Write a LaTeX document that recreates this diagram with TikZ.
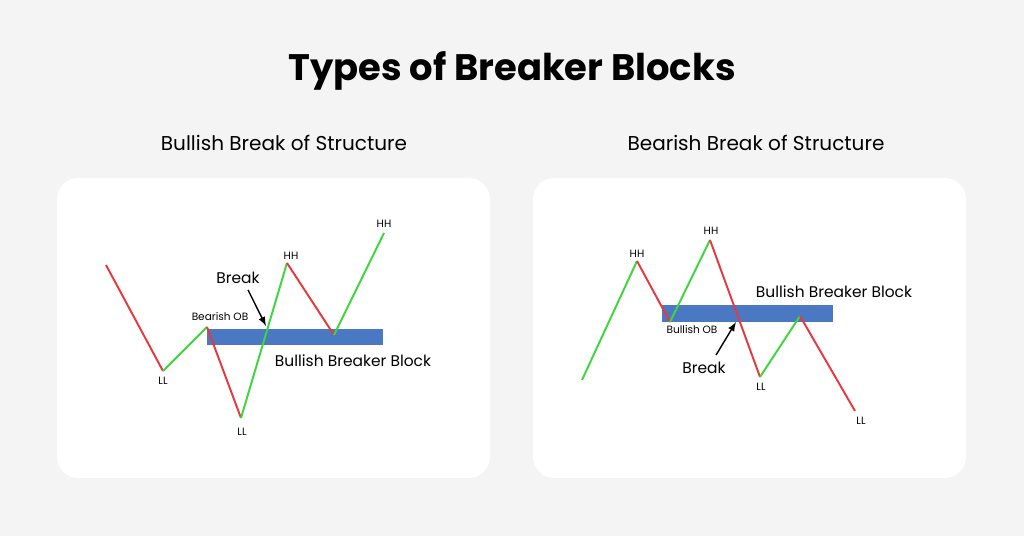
\documentclass[tikz,border=0pt]{standalone}
\usepackage{fontspec}
\setmainfont{Poppins}
\definecolor{bgc}{HTML}{F4F4F4}
\definecolor{upc}{HTML}{3DD63D}
\definecolor{dnc}{HTML}{E8383D}
\definecolor{blkc}{HTML}{4A78C2}
\tikzset{up/.style={upc, line width=1.1pt},
         dn/.style={dnc, line width=1.1pt},
         blk/.style={fill=blkc, draw=none},
         tiny/.style={font=\fontsize{6}{7}\selectfont, inner sep=1pt},
         lbl/.style={font=\fontsize{8.8}{11}\selectfont, inner sep=1pt},
         panel/.style={fill=white, draw=none, rounded corners=12pt}}
\begin{document}
\begin{tikzpicture}[x=0.02cm, y=-0.02cm]
\fill[bgc] (0,0) rectangle (1024,536);
\useasboundingbox (0,0) rectangle (1024,536);
\node (title) at (512,71) {\fontsize{21}{25}\selectfont\bfseries Types of Breaker Blocks};
\node (subl) at (284,143) {\fontsize{11.4}{14}\selectfont Bullish Break of Structure};
\node (subr) at (756,143) {\fontsize{11.4}{14}\selectfont Bearish Break of Structure};
\fill[panel] (57,178) rectangle (490,478);
\fill[panel] (533,178) rectangle (966,478);
% bullish
\fill[blk] (207,329) rectangle (383,345);
\coordinate (a0) at (106,265); \coordinate (a1) at (163,371); \coordinate (a2) at (207,327);
\coordinate (a3) at (241,418); \coordinate (a4) at (287,263); \coordinate (a5) at (334,335);
\coordinate (a6) at (384,233);
\draw[dn] (a0) -- (a1); \draw[up] (a1) -- (a2); \draw[dn] (a2) -- (a3);
\draw[up] (a3) -- (a4); \draw[dn] (a4) -- (a5); \draw[up] (a5) -- (a6);
\node[tiny] (ll1) at (163,381) {LL};
\node[tiny] (obl) at (220,317) {Bearish OB};
\node[tiny] (ll2) at (242,432) {LL};
\node[tiny] (hh1) at (291,256) {HH};
\node[tiny] (hh2) at (384,224) {HH};
\node[lbl] (brkl) at (238,278) {Break};
\coordinate (brkla) at (266,326);
\draw[-latex, thick] (brkl.south) ++(10,4) -- (brkla);
\node[lbl] (bbl) at (353,361) {Bullish Breaker Block};
% bearish
\fill[blk] (662,305) rectangle (833,322);
\coordinate (b0) at (582,380); \coordinate (b1) at (637,261); \coordinate (b2) at (670,322);
\coordinate (b3) at (710,240); \coordinate (b4) at (760,377); \coordinate (b5) at (800,316);
\coordinate (b6) at (855,411);
\draw[up] (b0) -- (b1); \draw[dn] (b1) -- (b2); \draw[up] (b2) -- (b3);
\draw[dn] (b3) -- (b4); \draw[up] (b4) -- (b5); \draw[dn] (b5) -- (b6);
\node[tiny] (hh3) at (637,254) {HH};
\node[tiny] (hh4) at (711,231) {HH};
\node[tiny] (obr) at (692,330) {Bullish OB};
\node[lbl] (bbr) at (834,292) {Bullish Breaker Block};
\node[lbl] (brkr) at (704,368) {Break};
\coordinate (brkra) at (736,322);
\draw[-latex, thick] (brkr.north) ++(12,-5) -- (brkra);
\node[tiny] (ll3) at (761,387) {LL};
\node[tiny] (ll4) at (861,421) {LL};
\end{tikzpicture}
\end{document}
